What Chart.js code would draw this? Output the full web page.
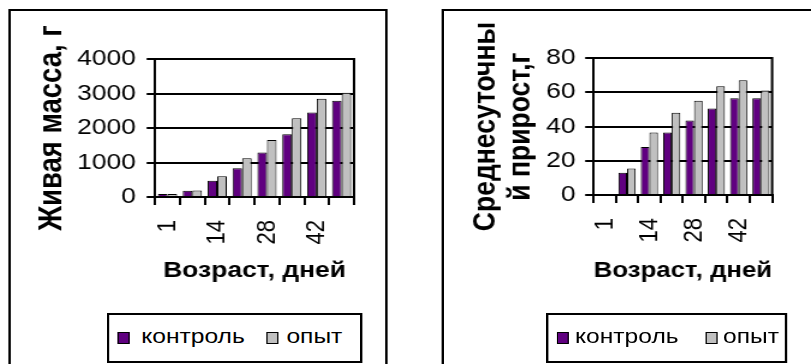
<!DOCTYPE html>
<html>
<head>
<meta charset="utf-8">
<script src="https://cdn.jsdelivr.net/npm/chart.js@4.4.1/dist/chart.umd.min.js"></script>
<style>
  html, body { margin: 0; padding: 0; background: #fff; overflow: hidden; width: 811px; height: 364px; }
  #stage {
    position: absolute; left: 0; top: 0; width: 675.83px; height: 364px;
    transform: scaleX(1.2); transform-origin: 0 0;
    font-family: "Liberation Sans", Arial, sans-serif; color: #000;
  }
  .frame { position: absolute; top: 9px; height: 420px; border: 2px solid #000; box-sizing: border-box; }
  .holder { position: absolute; top: 0; height: 364px; }
  .legend { position: absolute; top: 313px; height: 50px; border: 2px solid #000; box-sizing: border-box; background: #fff; }
  .sw { position: absolute; top: 17px; width: 10px; height: 11.5px; border: 1px solid #000; box-sizing: border-box; }
  .lt { position: absolute; top: 11px; font-size: 20.5px; line-height: 20px; white-space: nowrap; }
</style>
</head>
<body>
<div id="stage">
  <div class="frame" style="left:6.7px;width:316.6px"></div>
  <div class="frame" style="left:367.5px;width:330px"></div>

  <div class="holder" style="left:0;width:340px"><canvas id="massChart"></canvas></div>
  <div class="holder" style="left:340px;width:335.8px"><canvas id="gainChart"></canvas></div>

  <div class="legend" style="left:89.2px;width:213.3px">
    <div class="sw" id="lm1" style="left:7px"></div><div class="lt" id="lm1t" style="left:26.5px"></div>
    <div class="sw" id="lm2" style="left:130.5px"></div><div class="lt" id="lm2t" style="left:147.5px"></div>
  </div>
  <div class="legend" style="left:455px;width:200.8px">
    <div class="sw" id="lg1" style="left:7px"></div><div class="lt" id="lg1t" style="left:22.2px"></div>
    <div class="sw" id="lg2" style="left:131.3px"></div><div class="lt" id="lg2t" style="left:145.5px"></div>
  </div>
</div>

<script>
// Age of the birds, days
const categories = ['1', '7', '14', '21', '28', '35', '42', '49'];
// Ages that get a printed label on the x axis
const shownAgeLabels = ['1', '14', '28', '42'];

// Live weight, g
const massControl = [90, 180, 470, 830, 1290, 1820, 2450, 2790];
const massTrial   = [90, 185, 600, 1120, 1650, 2280, 2850, 3020];
const massTicks   = [0, 1000, 2000, 3000, 4000];

// Average daily gain, g
const gainControl = [null, 13, 28, 36.5, 43.5, 50.5, 56.5, 56.5];
const gainTrial   = [null, 15.5, 36.5, 48, 55, 63.5, 67, 61];
const gainTicks   = [0, 20, 40, 60, 80];

const seriesNames = ['контроль', 'опыт'];
const COLOR_CONTROL = '#600080';
const COLOR_TRIAL = '#c0c0c0';

const FONT = '"Liberation Sans", Arial, sans-serif';
Chart.defaults.font.family = FONT;
Chart.defaults.color = '#000';

// Frame around the plotting area (top and right edges)
const plotFrame = {
  id: 'plotFrame',
  afterDatasetsDraw(chart) {
    const { ctx, chartArea: a } = chart;
    ctx.save();
    ctx.strokeStyle = '#000';
    ctx.lineWidth = 2;
    ctx.beginPath();
    ctx.moveTo(a.left, a.top);
    ctx.lineTo(a.right, a.top);
    ctx.lineTo(a.right, a.bottom);
    ctx.stroke();
    ctx.restore();
  }
};

function makeChart(id, cfg) {
  return new Chart(document.getElementById(id), {
    type: 'bar',
    data: {
      labels: categories,
      datasets: [
        { label: seriesNames[0], data: cfg.control, backgroundColor: COLOR_CONTROL,
          borderColor: '#000', borderWidth: 1, borderSkipped: 'bottom' },
        { label: seriesNames[1], data: cfg.trial, backgroundColor: COLOR_TRIAL,
          borderColor: '#000', borderWidth: 1, borderSkipped: 'bottom' }
      ]
    },
    options: {
      responsive: true,
      maintainAspectRatio: false,
      animation: false,
      events: [],
      layout: { padding: cfg.padding },
      datasets: { bar: { categoryPercentage: 0.77, barPercentage: 1.0 } },
      plugins: { legend: { display: false }, tooltip: { enabled: false } },
      scales: {
        x: {
          offset: true,
          grid: { offset: true, drawOnChartArea: false, tickLength: 8, color: '#000', lineWidth: 2 },
          border: { display: true, color: '#000', width: 2 },
          ticks: {
            autoSkip: false, minRotation: 90, maxRotation: 90, padding: 15,
            font: { size: 22 }, color: '#000',
            callback(value) {
              const l = this.getLabelForValue(value);
              return shownAgeLabels.includes(l) ? l : '';
            }
          },
          title: { display: true, text: 'Возраст, дней', color: '#000',
                   font: { size: 22, weight: 'bold' }, padding: { top: 0, bottom: cfg.xTitlePad } },
          afterFit(s) { s.height = 100; }
        },
        y: {
          min: cfg.ticks[0],
          max: cfg.ticks[cfg.ticks.length - 1],
          afterBuildTicks(s) { s.ticks = cfg.ticks.map(v => ({ value: v })); },
          grid: { color: '#000', lineWidth: 2, tickLength: 7 },
          border: { display: true, color: '#000', width: 2 },
          ticks: { padding: cfg.yTickPad, font: { size: 22 }, color: '#000',
                   callback: v => String(v) },
          title: { display: true, text: cfg.yTitle, color: '#000',
                   font: { size: cfg.yTitleSize, weight: 'bold', lineHeight: '29px' },
                   padding: { top: cfg.yTitlePad, bottom: 0 } },
          afterFit(s) { s.width = cfg.yWidth; }
        }
      }
    },
    plugins: [plotFrame]
  });
}

makeChart('massChart', {
  control: massControl, trial: massTrial, ticks: massTicks,
  yTitle: 'Живая масса, г', yTitleSize: 27.5, yTitlePad: 29,
  yWidth: 129.2, yTickPad: 9, xTitlePad: 13.3,
  padding: { left: 0, top: 59, right: 45, bottom: 67 }
});

makeChart('gainChart', {
  control: gainControl, trial: gainTrial, ticks: gainTicks,
  yTitle: ['Среднесуточны', 'й прирост,г'], yTitleSize: 26.5, yTitlePad: 49.7,
  yWidth: 154.2, yTickPad: 8, xTitlePad: 11.3,
  padding: { left: 0, top: 58, right: 18.3, bottom: 69 }
});

// Legend entries use the same names and colours as the datasets
['lm', 'lg'].forEach(p => {
  document.getElementById(p + '1').style.background = COLOR_CONTROL;
  document.getElementById(p + '2').style.background = COLOR_TRIAL;
  document.getElementById(p + '1t').textContent = seriesNames[0];
  document.getElementById(p + '2t').textContent = seriesNames[1];
});
</script>
</body>
</html>
